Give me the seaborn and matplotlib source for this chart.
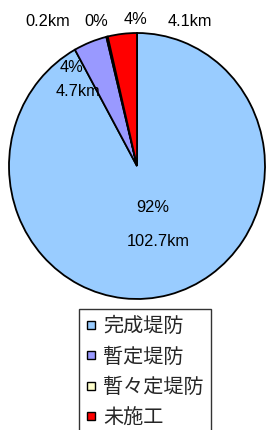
import matplotlib
matplotlib.use("Agg")
import matplotlib.pyplot as plt
import seaborn as sns
from matplotlib.lines import Line2D

# data
categories = ["完成堤防", "暫定堤防", "暫々定堤防", "未施工"]
lengths_km = [102.7, 4.7, 0.2, 4.1]
pct_labels = ["92%", "4%", "0%", "4%"]
km_labels = ["102.7km", "4.7km", "0.2km", "4.1km"]
colors = ["#99CCFF", "#9999FF", "#FFFFCC", "#FF0000"]

sns.set_theme(style="white")
plt.rcParams["font.family"] = ["Noto Sans CJK JP", "DejaVu Sans"]

W, H = 266, 430
fig = plt.figure(figsize=(W / 100, H / 100), dpi=100)
fig.patch.set_facecolor("white")

# pie area in pixels: x 9..265, y 33..299
ax = fig.add_axes([9 / W, 1 - 299 / H, 256 / W, 266 / H])
ax.pie(lengths_km, colors=colors, startangle=90, counterclock=False,
       wedgeprops=dict(edgecolor="black", linewidth=1.3), radius=1)
ax.set_aspect("auto")
ax.set_xlim(-1, 1)
ax.set_ylim(-1, 1)
ax.axis("off")

# data labels (pixel positions of label centres)
lab_pos = {
    "92%": (153, 207), "102.7km": (158, 242),
    "4%_a": (72, 67), "4.7km": (78, 91),
    "0%": (96, 21), "0.2km": (48, 21),
    "4%_b": (136, 19), "4.1km": (190, 21),
}
pairs = [("92%", "102.7km"), ("4%_a", "4.7km"), ("0%", "0.2km"), ("4%_b", "4.1km")]
for i, (pk, kk) in enumerate(pairs):
    for key, txt in ((pk, pct_labels[i]), (kk, km_labels[i])):
        x, y = lab_pos[key]
        fig.text(x / W, 1 - y / H, txt, ha="center", va="center",
                 fontsize=11.8, color="black",
                 family=["Liberation Sans", "DejaVu Sans"])

handles = [Line2D([0], [0], marker="s", linestyle="none", markersize=6,
                  markerfacecolor=c, markeredgecolor="black", markeredgewidth=1)
           for c in colors]
leg = fig.legend(handles, categories, loc="upper left",
                 bbox_to_anchor=(79 / W, 1 - 309 / H), fontsize=14.5,
                 frameon=True, fancybox=False, edgecolor="black",
                 handlelength=0.5, handletextpad=0.35, labelspacing=0.47,
                 borderpad=0.35, borderaxespad=0)
leg.get_frame().set_linewidth(1)

fig.savefig("out.png", dpi=100)
